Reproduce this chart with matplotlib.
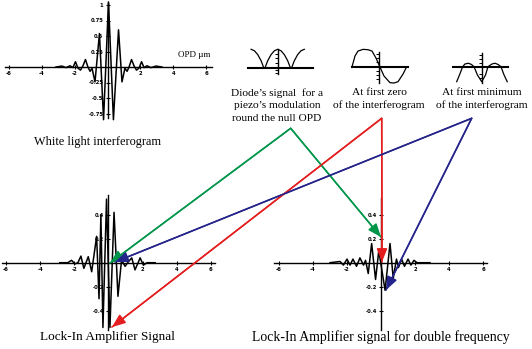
import numpy as np
import matplotlib
matplotlib.use('Agg')
import matplotlib.pyplot as plt

W, H = 532, 349

# white light interferogram (OPD in um, signal)
wl_opd = [-3.13, -2.77, -2.52, -2.28, -2.10, -1.95, -1.79, -1.64, -1.49, -1.34, -1.19,
          -1.06, -0.94, -0.76, -0.49, -0.24, 0.06, 0.36, 0.67, 0.88, 1.06, 1.19, 1.31,
          1.46, 1.61, 1.76, 1.91, 2.07, 2.22, 2.40, 2.64, 2.95, 3.31]
wl_sig = [0.0, 0.015, -0.01, 0.02, -0.01, 0.085, -0.02, -0.05, 0.02, 0.12, 0.0,
          -0.07, -0.02, -0.24, 0.54, -0.85, 1.05, -0.85, 0.6, -0.24, -0.02, -0.07, 0.0,
          0.12, 0.02, -0.05, -0.02, 0.085, -0.01, 0.02, -0.01, 0.015, 0.0]

# lock-in amplifier signal
li_opd = [-2.85, -2.38, -2.16, -1.96, -1.79, -1.61, -1.44, -1.18, -0.98, -0.69, -0.55,
          -0.44, -0.32, -0.11, 0.09, 0.33, 0.56, 0.77, 0.98, 1.18, 1.37, 1.56, 1.86,
          2.05, 2.27, 2.74]
li_sig = [0.0, 0.0, 0.02, -0.01, 0.0, 0.055, -0.047, 0.05, -0.075, 0.22, -0.30,
          0.40, -0.54, 0.53, -0.54, 0.42, -0.28, 0.02, -0.03, 0.01, 0.04, -0.06, 0.04,
          -0.02, 0.0, 0.0]

# lock-in signal at double frequency
df_opd = [-3.0, -2.41, -2.21, -2.0, -1.82, -1.65, -1.44, -1.24, -1.03, -0.91, -0.75,
          -0.55, -0.32, -0.13, 0.24, 0.53, 0.72, 0.91, 1.03, 1.21, 1.38, 1.59, 1.76,
          1.94, 2.12, 2.88]
df_sig = [0.0, 0.01, -0.02, 0.03, -0.02, 0.03, -0.03, 0.04, -0.02, 0.02, -0.09,
          0.16, -0.14, 0.10, -0.23, 0.16, -0.13, 0.03, -0.04, 0.03, -0.03, 0.03, -0.02,
          0.02, 0.0, 0.0]

# diode signal sketches
null_x = [-2.0, -1.75, -1.5, -1.25, -1.05, -0.95, -0.75, -0.5, -0.25, 0.0, 0.25, 0.5,
          0.75, 0.95, 1.05, 1.25, 1.5, 1.75, 2.0]
null_y = [1.0, 0.92, 0.71, 0.38, 0.0, 0.0, 0.38, 0.71, 0.92, 1.0, 0.92, 0.71,
          0.38, 0.0, 0.0, 0.38, 0.71, 0.92, 1.0]
zero_x = [-2.02, -1.8, -1.58, -1.2, -0.84, -0.54, -0.24, 0.05, 0.35, 0.79, 1.09, 1.39, 1.76, 2.03]
zero_y = [0.0, 0.63, 0.92, 1.02, 1.0, 0.92, 0.5, -0.02, -0.55, -0.94, -0.96, -0.88, -0.43, 0.0]
min_x = [-1.88, -1.67, -1.43, -1.26, -1.0, -0.77, -0.58, -0.32, 0.0, 0.29, 0.47, 0.77,
         1.0, 1.23, 1.45, 1.68, 1.92]
min_y = [-1.0, -0.55, 0.0, 0.18, 0.23, 0.15, 0.0, -0.55, -1.0, -0.55, 0.0, 0.18,
         0.23, 0.15, 0.0, -0.55, -1.0]

serif = 'Liberation Serif'
tickfont = {'family': 'DejaVu Sans', 'size': 3.8, 'weight': 'bold'}

fig = plt.figure(figsize=(W / 100, H / 100), dpi=100)


def panel(x0, x1, y0, y1, cx, sx, cy, sy):
    # axes box given in pixels, (cx, cy) = pixel of origin, sx/sy = px per unit
    ax = fig.add_axes([x0 / W, 1 - y1 / H, (x1 - x0) / W, (y1 - y0) / H])
    ax.set_xlim((x0 - cx) / sx, (x1 - cx) / sx)
    ax.set_ylim((cy - y1) / sy, (cy - y0) / sy)
    ax.patch.set_alpha(0)
    for s in ['top', 'right']:
        ax.spines[s].set_visible(False)
    for s in ['left', 'bottom']:
        ax.spines[s].set_position(('data', 0))
        ax.spines[s].set_linewidth(1.0)
    ax.tick_params(direction='inout', length=3, width=0.8, pad=1.5)
    return ax


def set_ticks(ax, xt, yt, ylabels=True):
    ax.set_xticks(xt)
    ax.set_xticklabels([('%g' % t) for t in xt], fontdict=tickfont)
    ax.set_yticks(yt)
    if ylabels:
        ax.set_yticklabels([('%g' % t) for t in yt], fontdict=tickfont)
    else:
        ax.set_yticklabels([])


# white light interferogram
axA = panel(5, 212, 3, 118, 107.5, 16.45, 67, 62)
axA.plot(wl_opd, wl_sig, color='black', lw=1.1, clip_on=False)
set_ticks(axA, [-6, -4, -2, 2, 4, 6], [-0.75, -0.5, -0.25, 0.25, 0.5, 0.75, 1])

# lock-in
axB = panel(2, 215, 195, 330, 108.4, 17.06, 262.7, 120)
axB.plot(li_opd, li_sig, color='black', lw=1.1, clip_on=False)
set_ticks(axB, [-6, -4, -2, 2, 4, 6], [-0.4, -0.2, 0.2, 0.4])

# double frequency
axC = panel(274, 487, 198, 330, 381, 17.0, 262.7, 120)
axC.plot(df_opd, df_sig, color='black', lw=1.1, clip_on=False)
set_ticks(axC, [-6, -4, -2, 2, 4, 6], [-0.4, -0.2, 0.2, 0.4])

# small diode sketches
axD = panel(248, 313, 49, 74.3, 277.7, 13.3, 67.7, 18.4)
axD.plot(null_x, null_y, color='black', lw=0.9, clip_on=False)
set_ticks(axD, [], [-0.3, -0.15, 0.25, 0.5, 0.75], ylabels=False)

axE = panel(351.7, 408.3, 51.7, 83.3, 379.3, 13.5, 66.7, 17)
axE.plot(zero_x, zero_y, color='black', lw=0.9, clip_on=False)
set_ticks(axE, [], [-0.75, -0.5, -0.25, 0.25, 0.5, 0.75], ylabels=False)

axF = panel(453.3, 508.3, 52.7, 83.3, 481.7, 13.3, 66.7, 15)
axF.plot(min_x, min_y, color='black', lw=0.9, clip_on=False)
set_ticks(axF, [], [-0.75, -0.5, 0.25, 0.5, 0.75], ylabels=False)

for ax in [axD, axE, axF]:
    ax.spines['bottom'].set_linewidth(1.5)
    ax.tick_params(axis='y', direction='out', length=2.5, width=0.7)

# overlay in pixel coordinates for arrows and text
ov = fig.add_axes([0, 0, 1, 1], zorder=10)
ov.set_xlim(0, W)
ov.set_ylim(H, 0)
ov.axis('off')
ov.patch.set_alpha(0)


def vee(c, tip1, apex, tip2):
    ov.plot([tip1[0], apex[0], tip2[0]], [tip1[1], apex[1], tip2[1]], color=c, lw=1.1)
    for tip in (tip1, tip2):
        ov.annotate('', xy=tip, xytext=apex,
                    arrowprops=dict(arrowstyle='-|>,head_length=0.8,head_width=0.32',
                                    color=c, lw=1.1, shrinkA=0, shrinkB=0))


vee('#00964a', (110, 263), (290.7, 128.3), (381, 237))
vee('#e41e1e', (112, 327), (381.7, 118.3), (382, 262))
vee('#24248a', (115, 262), (471.7, 118.3), (386, 290))

ov.text(178, 55, 'OPD µm', fontsize=6.5, family=serif, ha='left', va='center')
ov.text(98, 142, 'White light interferogram', fontsize=8.8, family=serif, ha='center', va='center')
ov.text(277, 105.5, 'Diode’s signal  for a\npiezo’s modulation\nround the null OPD',
        fontsize=8.2, family=serif, ha='center', va='center', linespacing=1.45)
ov.text(379, 99.3, 'At first zero\nof the interferogram',
        fontsize=8.2, family=serif, ha='center', va='center', linespacing=1.45)
ov.text(482, 99.3, 'At first minimum\nof the interferogram',
        fontsize=8.2, family=serif, ha='center', va='center', linespacing=1.45)
ov.text(107.5, 337, 'Lock-In Amplifier Signal', fontsize=9.5, family=serif, ha='center', va='center')
ov.text(380.5, 337, 'Lock-In Amplifier signal for double frequency', fontsize=9.9,
        family=serif, ha='center', va='center')

fig.savefig('out.png', dpi=100)
